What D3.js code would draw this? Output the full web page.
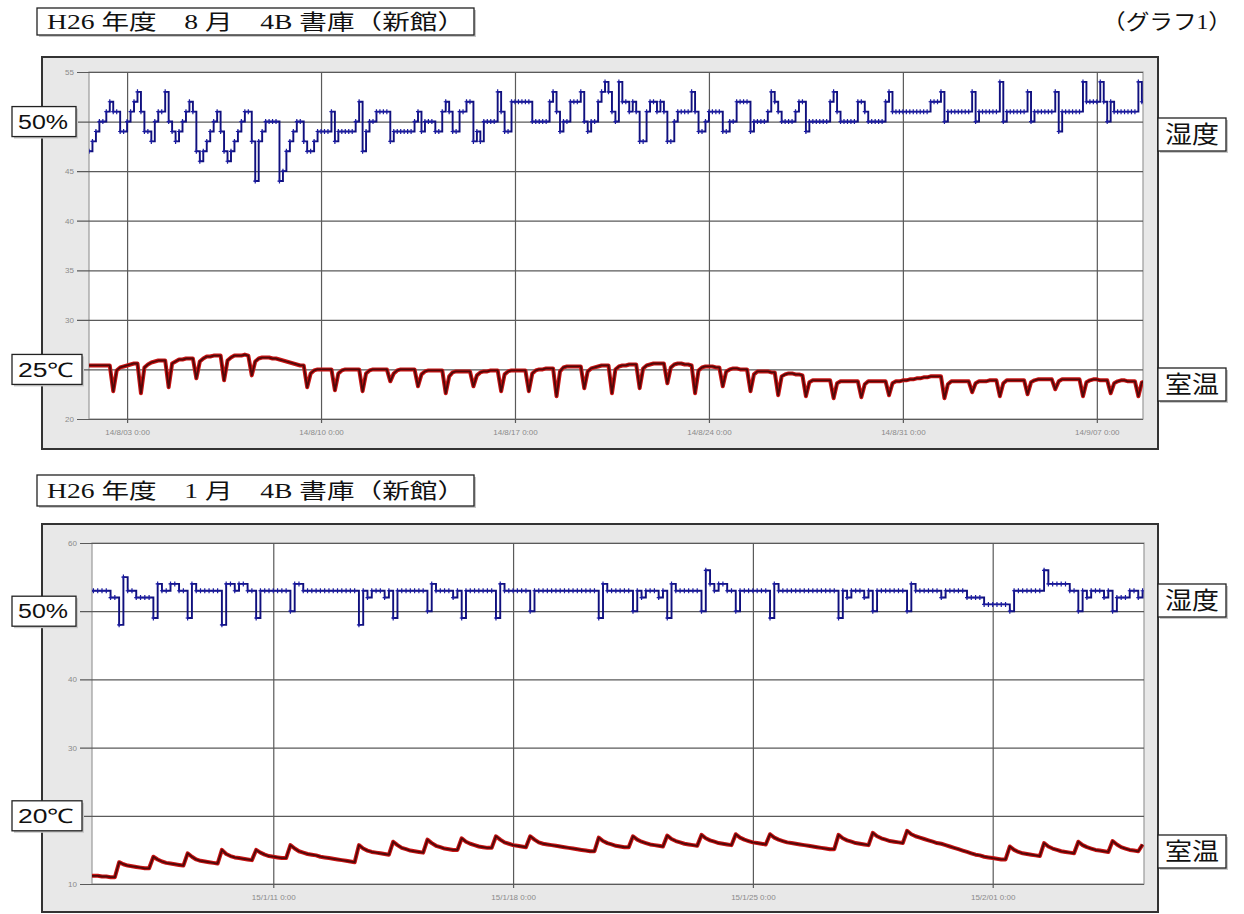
<!DOCTYPE html>
<html>
<head>
<meta charset="utf-8">
<script src="https://cdn.jsdelivr.net/npm/d3@7"></script>
<style>
  body { margin: 0; background: #fff; }
  .ax path.domain { display: none; }
  .ax line { stroke: #5a5a5a; stroke-width: 1.2; }
  .ax text { fill: #8a8a8a; font-family: "Liberation Sans", Arial, sans-serif; font-size: 8px; }
</style>
</head>
<body>
<svg id="chart" width="1244" height="914"></svg>
<script>
// ---- graph 1 : August 2014 (3-hour readings, one row per day 0h..21h) ----
const augTitle = "H26 年度　8 月　4B 書庫（新館）";
const augStart = new Date(2014, 7, 1, 0);
const augDomain = [new Date(2014, 7, 1, 15), new Date(2014, 8, 8, 16)];
const augTicks = [new Date(2014, 7, 3), new Date(2014, 7, 10), new Date(2014, 7, 17),
                  new Date(2014, 7, 24), new Date(2014, 7, 31), new Date(2014, 8, 7)];
const augYTicks = [20, 25, 30, 35, 40, 45, 50, 55];
const augHum = [
  47,47,47,47,47,47,48,49,  50,50,51,52,51,51,49,49,  50,51,52,53,51,49,49,48,
  50,51,51,53,50,49,48,49,  50,51,52,51,47,46,47,48,  49,50,51,49,47,46,47,48,
  49,50,51,51,48,44,48,49,  50,50,50,50,44,45,47,48,  49,50,50,48,47,47,48,49,
  49,49,49,51,48,49,49,49,  49,49,50,52,47,49,50,50,  51,51,51,51,48,49,49,49,
  49,49,49,50,51,49,50,50,  50,49,49,51,52,51,49,49,  51,51,52,52,48,49,48,50,
  50,50,50,53,51,49,49,52,  52,52,52,52,52,50,50,50,  50,50,52,53,51,49,50,50,
  52,52,52,53,50,49,50,50,  52,53,54,53,51,50,54,52,  52,51,52,51,48,48,51,52,
  52,51,52,51,48,48,50,51,  51,51,51,53,51,49,49,50,  51,51,51,51,49,49,50,50,
  52,52,52,52,49,50,50,50,  50,51,53,52,51,50,50,50,  50,51,52,52,49,50,50,50,
  50,50,50,52,53,51,50,50,  50,50,50,52,52,51,50,50,  50,50,50,52,53,51,51,51,
  51,51,51,51,51,51,51,51,  52,52,52,53,50,51,51,51,  51,51,51,51,53,50,51,51,
  51,51,51,51,54,50,51,51,  51,51,51,51,53,50,51,51,  51,51,51,51,53,49,51,51,
  51,51,51,51,54,52,52,52,  52,54,52,50,52,51,51,51,  51,51,51,51,54,52,52
];
const augTemp = [
  25.4,25.4,25.4,25.4,25.4,25.4,25.4,25.4,  25.4,25.4,25.4,25.4,22.8,24.9,25.2,25.3,
  25.4,25.5,25.6,25.6,22.6,25.2,25.5,25.7,  25.8,25.9,25.9,25.9,23.2,25.6,25.8,26.0,
  26.0,26.1,26.1,26.1,24.1,25.8,26.1,26.3,  26.3,26.4,26.4,26.4,23.9,25.9,26.2,26.4,
  26.4,26.4,26.5,26.4,24.4,25.8,26.1,26.2,  26.2,26.2,26.1,26.1,26.0,25.9,25.8,25.7,
  25.6,25.5,25.4,25.4,23.2,24.6,24.9,25.0,  25.0,25.0,25.0,25.0,22.9,24.6,24.9,25.0,
  25.0,25.0,25.0,25.0,22.8,24.6,24.9,25.0,  25.0,25.0,25.0,25.0,23.8,24.6,24.9,25.0,
  25.0,25.0,25.0,25.0,23.3,24.5,24.8,24.9,  24.9,24.9,24.9,24.9,22.6,24.3,24.7,24.8,
  24.8,24.8,24.8,24.8,23.3,24.4,24.7,24.8,  24.8,24.9,24.9,24.9,22.8,24.5,24.8,24.9,
  24.9,24.9,24.9,24.9,22.8,24.6,24.9,25.0,  25.0,25.1,25.1,25.1,22.3,24.8,25.2,25.3,
  25.3,25.3,25.3,25.3,23.1,24.8,25.1,25.2,  25.3,25.4,25.4,25.4,22.6,25.0,25.3,25.4,
  25.4,25.5,25.5,25.5,23.1,25.1,25.4,25.5,  25.6,25.6,25.6,25.6,23.6,25.2,25.5,25.6,
  25.6,25.5,25.5,25.4,22.6,24.9,25.2,25.3,  25.3,25.3,25.2,25.2,23.3,24.8,25.0,25.1,
  25.1,25.0,25.0,25.0,22.8,24.5,24.8,24.8,  24.8,24.8,24.7,24.7,22.4,24.3,24.5,24.6,
  24.6,24.5,24.5,24.4,22.3,23.7,23.9,23.9,  23.9,23.9,23.9,23.9,22.1,23.6,23.8,23.8,
  23.8,23.8,23.8,23.8,22.2,23.5,23.8,23.8,  23.8,23.8,23.8,23.8,22.4,23.6,23.8,23.8,
  23.9,23.9,24.0,24.0,24.1,24.1,24.2,24.2,  24.3,24.3,24.3,24.3,22.1,23.5,23.8,23.8,
  23.8,23.8,23.8,23.8,22.7,23.6,23.8,23.8,  23.8,23.9,23.9,23.9,22.3,23.6,23.9,23.9,
  23.9,23.9,23.9,23.9,22.5,23.7,23.9,24.0,  24.0,24.0,24.0,24.0,23.0,23.8,24.0,24.0,
  24.0,24.0,24.0,24.0,22.3,23.7,23.9,24.0,  24.0,23.9,23.9,23.9,22.6,23.6,23.8,23.9,
  23.9,23.8,23.8,23.8,22.3,23.7,23.8
];

// ---- graph 2 : January 2015 ----
const janTitle = "H26 年度　1 月　4B 書庫（新館）";
const janStart = new Date(2015, 0, 5, 0);
const janDomain = [new Date(2015, 0, 5, 17), new Date(2015, 1, 5, 10)];
const janTicks = [new Date(2015, 0, 11), new Date(2015, 0, 18), new Date(2015, 0, 25), new Date(2015, 1, 1)];
const janYTicks = [10, 20, 30, 40, 50, 60];
const janHum = [
  53,53,53,53,53,53,53,53,  53,53,52,52,48,55,53,53,  52,52,52,52,49,54,53,53,
  54,54,53,53,49,54,53,53,  53,53,53,53,48,54,54,53,  54,54,53,53,49,53,53,53,
  53,53,53,53,50,54,54,53,  53,53,53,53,53,53,53,53,  53,53,53,53,48,53,52,53,
  53,53,52,53,49,53,53,53,  53,53,53,53,50,54,53,53,  53,53,52,53,49,53,53,53,
  53,53,53,53,49,54,53,53,  53,53,53,53,50,53,53,53,  53,53,53,53,53,53,53,53,
  53,53,53,53,49,54,53,53,  53,53,53,53,50,53,52,53,  53,53,52,53,49,54,53,53,
  53,53,53,53,50,56,54,53,  54,54,53,53,50,53,53,53,  53,53,53,53,49,54,53,53,
  53,53,53,53,53,53,53,53,  53,53,53,53,49,53,52,53,  53,53,52,53,50,53,53,53,
  53,53,53,53,50,54,53,53,  53,53,53,53,52,53,53,53,  53,53,52,52,52,52,51,51,
  51,51,51,51,50,53,53,53,  53,53,53,53,56,54,54,54,  54,54,53,53,50,53,52,53,
  53,53,52,53,50,52,52,52,  53,53,52,53
];
const janTemp = [
  11.2,11.2,11.2,11.2,11.2,11.2,11.2,11.2,  11.1,11.1,11.0,11.0,13.2,12.9,12.7,12.6,
  12.5,12.4,12.3,12.3,14.0,13.6,13.3,13.1,  13.0,12.9,12.8,12.7,14.5,14.0,13.6,13.4,
  13.3,13.2,13.1,13.0,15.0,14.4,14.1,13.9,  13.8,13.7,13.6,13.5,15.0,14.6,14.3,14.1,
  14.0,13.9,13.8,13.8,15.7,15.2,14.8,14.6,  14.4,14.3,14.2,14.0,13.9,13.8,13.7,13.6,
  13.5,13.4,13.3,13.2,15.7,15.2,14.9,14.7,  14.6,14.5,14.4,14.3,16.2,15.7,15.3,15.1,
  14.9,14.8,14.7,14.6,16.5,16.0,15.6,15.4,  15.2,15.1,15.0,15.0,16.7,16.2,15.9,15.7,
  15.5,15.4,15.3,15.3,17.0,16.5,16.1,15.9,  15.7,15.6,15.5,15.4,17.0,16.5,16.1,15.9,
  15.8,15.7,15.6,15.5,15.4,15.3,15.2,15.1,  15.0,14.9,14.8,14.8,16.8,16.3,16.0,15.8,
  15.6,15.5,15.4,15.4,17.0,16.5,16.2,16.0,  15.8,15.7,15.6,15.5,17.1,16.6,16.3,16.1,
  15.9,15.8,15.7,15.6,17.2,16.7,16.4,16.2,  16.0,15.9,15.8,15.7,17.3,16.8,16.5,16.3,
  16.1,16.0,15.9,15.8,17.3,16.8,16.5,16.3,  16.1,16.0,15.9,15.8,15.7,15.6,15.5,15.4,
  15.3,15.2,15.1,15.1,17.2,16.7,16.4,16.2,  16.0,15.9,15.8,15.7,17.5,17.0,16.7,16.5,
  16.3,16.2,16.1,16.0,17.8,17.3,17.0,16.8,  16.6,16.4,16.2,16.0,15.9,15.7,15.5,15.3,
  15.1,14.9,14.7,14.5,14.3,14.2,14.0,13.9,  13.8,13.7,13.6,13.6,15.5,15.0,14.7,14.5,
  14.4,14.3,14.2,14.1,16.0,15.5,15.2,15.0,  14.8,14.7,14.6,14.5,16.2,15.7,15.4,15.2,
  15.0,14.9,14.8,14.7,16.3,15.8,15.4,15.2,  15.0,14.9,14.8,15.8
];

const stepHours = 3;
const fmt = d3.timeFormat("%y/%-m/%d %-H:%M");
const svg = d3.select("#chart");

function labelBox(g, x, y, w, h, label, font, size, len, pad) {
    g.append("rect").attr("x", x + 2).attr("y", y + 2).attr("width", w).attr("height", h).attr("fill", "#c8c8c8");
    g.append("rect").attr("x", x).attr("y", y).attr("width", w).attr("height", h)
        .attr("fill", "#fff").attr("stroke", "#222").attr("stroke-width", 1.3);
    g.append("text").attr("x", x + pad).attr("y", y + h / 2).attr("dy", "0.36em")
        .attr("font-family", font).attr("font-size", size).attr("fill", "#111")
        .attr("textLength", len).attr("lengthAdjust", "spacingAndGlyphs")
        .text(label);
}

function drawPanel(p) {
    const g = svg.append("g");
    const pl = p.plot;

    // title
    labelBox(g, p.titleBox[0], p.titleBox[1], p.titleBox[2], p.titleBox[3], p.title,
        "'Liberation Serif', 'Noto Sans CJK JP', serif", 21, 418, 10);

    // outer frame
    g.append("rect").attr("x", p.frame[0]).attr("y", p.frame[1])
        .attr("width", p.frame[2] - p.frame[0]).attr("height", p.frame[3] - p.frame[1])
        .attr("fill", "#e8e8e8").attr("stroke", "#333").attr("stroke-width", 2);

    g.append("rect").attr("x", pl.l).attr("y", pl.t).attr("width", pl.r - pl.l).attr("height", pl.b - pl.t)
        .attr("fill", "#fff").attr("stroke", "#9a9a9a").attr("stroke-width", 1.2);

    const x = d3.scaleTime().domain(p.domain).range([pl.l, pl.r]);
    const y = d3.scaleLinear().domain(p.yDomain).range([pl.b, pl.t]);

    g.append("g").attr("class", "ax").attr("transform", "translate(0," + (pl.b + 4) + ")")
        .call(d3.axisBottom(x).tickValues(p.ticks).tickFormat(fmt)
            .tickSize(-(pl.b - pl.t + 4)).tickPadding(6));

    g.append("g").attr("class", "ax").attr("transform", "translate(" + (pl.l - 12) + ",0)")
        .call(d3.axisLeft(y).tickValues(p.yTicks)
            .tickSize(-(pl.r - pl.l + 12)).tickPadding(3));

    const clipId = "clip" + p.id;
    g.append("clipPath").attr("id", clipId).append("rect")
        .attr("x", pl.l).attr("y", pl.t).attr("width", pl.r - pl.l).attr("height", pl.b - pl.t);
    const data = g.append("g").attr("clip-path", "url(#" + clipId + ")");

    const hum = p.hum.map((v, i) => ({ t: d3.timeHour.offset(p.start, i * stepHours), v: v }));
    const temp = p.temp.map((v, i) => ({ t: d3.timeHour.offset(p.start, i * stepHours), v: v }));

    // humidity: step line with small cross markers
    data.append("path").datum(hum)
        .attr("d", d3.line().x(d => x(d.t)).y(d => y(d.v)).curve(d3.curveStepAfter))
        .attr("fill", "none").attr("stroke", "#10107e").attr("stroke-width", 1.9);
    data.selectAll(".mk").data(hum).join("path").attr("class", "mk")
        .attr("d", d => {
            const cx = x(d.t), cy = y(d.v);
            return "M" + (cx - 2) + "," + cy + "h4M" + cx + "," + (cy - 2.5) + "v5";
        })
        .attr("stroke", "#1a1aa0").attr("stroke-width", 1.2);

    // temperature: thick dark red
    const tl = d3.line().x(d => x(d.t)).y(d => y(d.v));
    data.append("path").datum(temp).attr("d", tl)
        .attr("fill", "none").attr("stroke", "#c81414").attr("stroke-width", 4).attr("stroke-linejoin", "round");
    data.append("path").datum(temp).attr("d", tl)
        .attr("fill", "none").attr("stroke", "#500808").attr("stroke-width", 1.8).attr("stroke-linejoin", "round");

    // side labels
    const sans = "'Liberation Sans', Arial, sans-serif";
    const cjk = "'Noto Sans CJK JP', sans-serif";
    labelBox(g, 12, y(50) - 15, 64, 30, "50%", sans, 20, 50, 6);
    labelBox(g, 12, y(p.tempRef) - 15, 70, 30, p.tempRef + "℃", sans, 20, 56, 6);
    labelBox(g, 1158, p.humBoxY, 68, 33, "湿度", cjk, 24, 54, 7);
    labelBox(g, 1158, p.tempBoxY, 68, 33, "室温", cjk, 24, 54, 7);
}

drawPanel({
    id: "aug", title: augTitle, titleBox: [37, 8, 437, 27],
    frame: [42, 57, 1158, 449], plot: { l: 89, r: 1143, t: 72, b: 419 },
    domain: augDomain, yDomain: [20, 55], ticks: augTicks, yTicks: augYTicks,
    start: augStart, hum: augHum, temp: augTemp, tempRef: 25,
    humBoxY: 118, tempBoxY: 368
});

drawPanel({
    id: "jan", title: janTitle, titleBox: [37, 475, 437, 31],
    frame: [42, 524, 1158, 912], plot: { l: 92, r: 1144, t: 543, b: 884 },
    domain: janDomain, yDomain: [10, 60], ticks: janTicks, yTicks: janYTicks,
    start: janStart, hum: janHum, temp: janTemp, tempRef: 20,
    humBoxY: 584, tempBoxY: 835
});

svg.append("text").attr("x", 1102).attr("y", 29)
    .attr("font-family", "'Liberation Serif', 'Noto Sans CJK JP', serif").attr("font-size", 21)
    .attr("fill", "#111").attr("textLength", 130).attr("lengthAdjust", "spacingAndGlyphs")
    .text("（グラフ1）");
</script>
</body>
</html>
